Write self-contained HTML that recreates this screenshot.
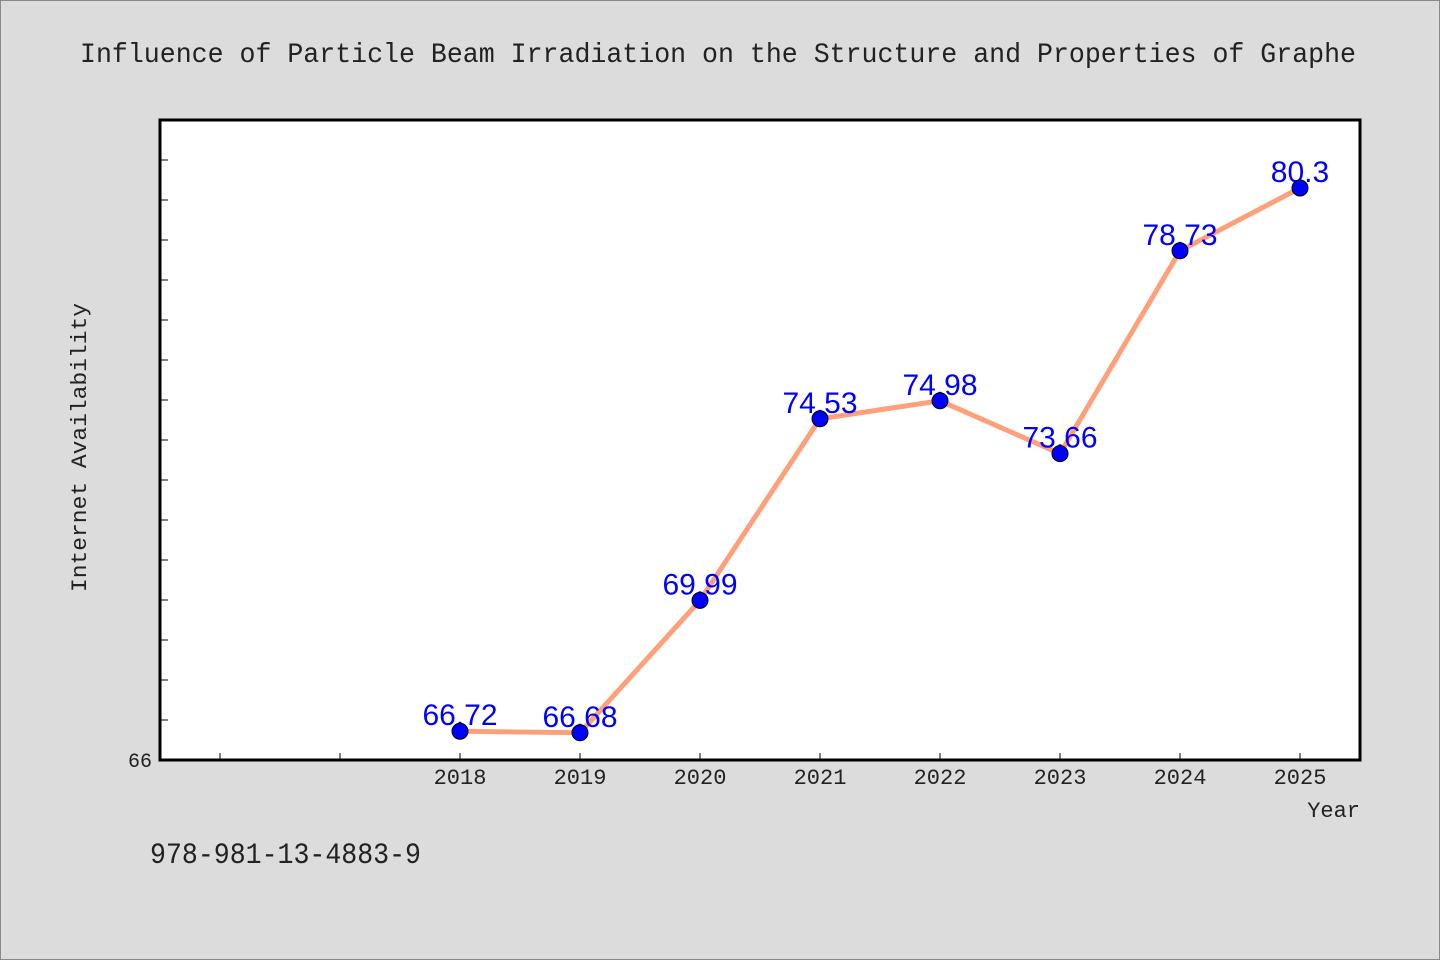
<!DOCTYPE html>
<html><head><meta charset="utf-8"><style>
html,body{margin:0;padding:0;background:#dcdcdc;}
svg{display:block;font-family:"WenQuanYi Zen Hei Mono","WenQuanYi Zen Hei","Liberation Mono",monospace;}
</style></head><body>
<svg id="chart" width="1440" height="960" viewBox="0 0 1440 960">
<rect x="0.5" y="0.5" width="1439" height="959" fill="#dcdcdc" stroke="#888"/>
<text x="80" y="62" font-size="28" fill="#222" textLength="1276" lengthAdjust="spacingAndGlyphs">Influence of Particle Beam Irradiation on the Structure and Properties of Graphe</text>
<rect x="160" y="120" width="1200" height="640" fill="#fff"/>
<g id="grid"></g>
<rect x="160" y="120" width="1200" height="640" fill="none" stroke="#000" stroke-width="3"/>
<text transform="translate(86,592) rotate(-90)" font-size="22" fill="#222" textLength="289" lengthAdjust="spacingAndGlyphs">Internet Availability</text>
<text x="1360" y="817" font-size="22" fill="#222" text-anchor="end">Year</text>
<text x="150" y="863" font-size="30" fill="#222" textLength="271" lengthAdjust="spacingAndGlyphs">978-981-13-4883-9</text>
<g id="marks"></g>
</svg>
<script>
const categories = ["", "", "2018", "2019", "2020", "2021", "2022", "2023", "2024", "2025"];
const values = [null, null, 66.72, 66.68, 69.99, 74.53, 74.98, 73.66, 78.73, 80.3];
const valueLabels = ["", "", "66.72", "66.68", "69.99", "74.53", "74.98", "73.66", "78.73", "80.3"];
const yMin = 66, yMax = 82;
const yTickLabels = ["66"];
const NS = "http://www.w3.org/2000/svg";
const X0 = 160, X1 = 1360, Y0 = 760, Y1 = 120;
function xs(i){ return X0 + (i + 0.5) * (X1 - X0) / categories.length; }
function ys(v){ return Y0 - (v - yMin) / (yMax - yMin) * (Y0 - Y1); }
function mk(tag, attrs, parent){ const e = document.createElementNS(NS, tag); for (const k in attrs) e.setAttribute(k, attrs[k]); parent.appendChild(e); return e; }
const grid = document.getElementById('grid');
const marks = document.getElementById('marks');
for (let v = yMin; v < yMax; v++) {
  const t = mk('line', {x1: X0, x2: X0 + 8, y1: ys(v), y2: ys(v), stroke: '#000', 'stroke-width': 1}, grid);
  
  
}
yTickLabels.forEach(l => {
  const t = mk('text', {x: X0 - 8, y: ys(+l) + 7, 'font-size': 20, fill: '#222', 'text-anchor': 'end'}, grid);
  t.textContent = l;
  
  
});
categories.forEach((c, i) => {
  const t = mk('line', {x1: xs(i), x2: xs(i), y1: Y0, y2: Y0 - 7, stroke: '#000', 'stroke-width': 1}, grid);
  
  
  if (c) {
    const l = mk('text', {x: xs(i), y: Y0 + 24, 'font-size': 22, fill: '#222', 'text-anchor': 'middle'}, grid);
    l.textContent = c;
    
    
  }
});
let d = '';
values.forEach((v, i) => { if (v !== null) d += (d ? 'L' : 'M') + xs(i) + ' ' + ys(v) + ' '; });
const line = mk('path', {d: d, fill: 'none', stroke: '#ffa07a', 'stroke-width': 5, 'stroke-linejoin': 'round'}, marks);


values.forEach((v, i) => {
  if (v === null) return;
  const t = mk('text', {x: xs(i), y: ys(v) - 6, 'font-size': 30, fill: '#0000ff', 'text-anchor': 'middle', 'font-family': 'Liberation Sans, sans-serif'}, marks);
  t.textContent = valueLabels[i];
  
  
});
values.forEach((v, i) => {
  if (v === null) return;
  const c = mk('circle', {cx: xs(i), cy: ys(v), r: 8, fill: '#0000ff', stroke: '#000', 'stroke-width': 1}, marks);
  
  
});
</script>
</body></html>
